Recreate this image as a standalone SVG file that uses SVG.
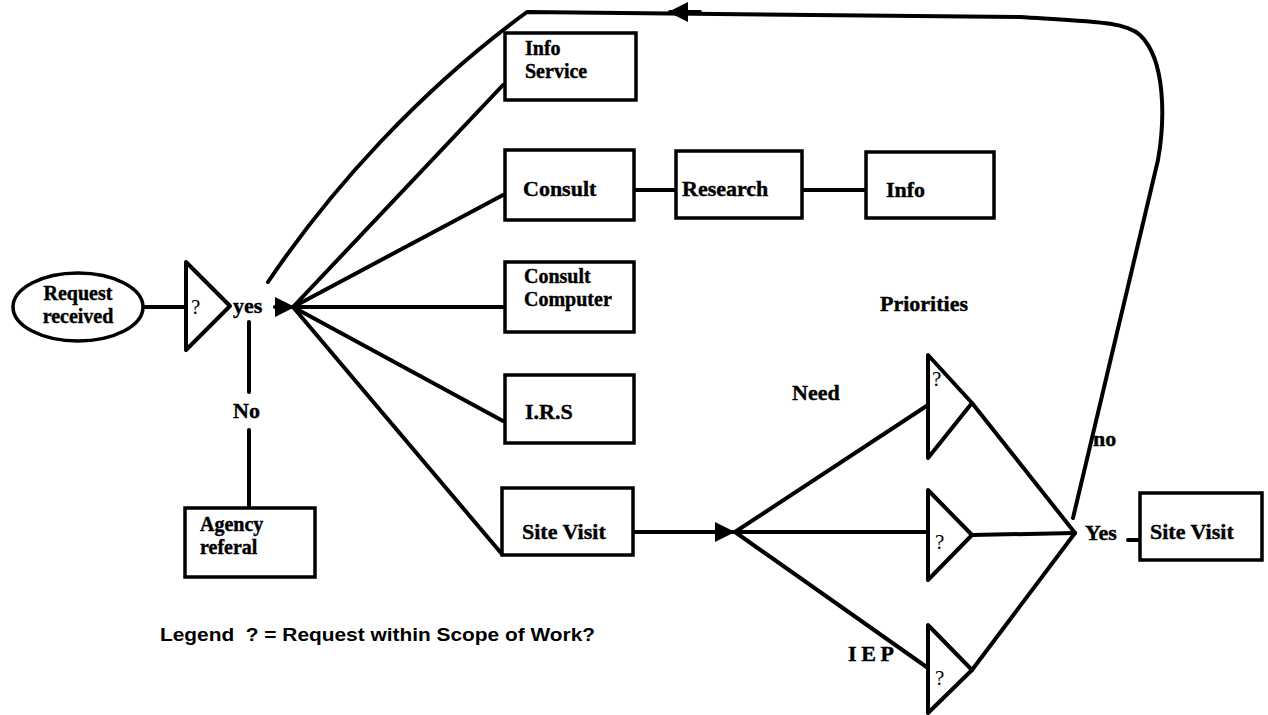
<svg xmlns="http://www.w3.org/2000/svg" width="1268" height="715" viewBox="0 0 1268 715">
<style>
.box{fill:#fff;stroke:#000;stroke-width:3.5}
.ln{fill:none;stroke:#000;stroke-width:4;stroke-linecap:round;stroke-linejoin:round}
.t{font-family:"Liberation Serif",serif;font-weight:bold;font-size:22px;fill:#000;stroke:#000;stroke-width:0.4}
.t2{font-family:"Liberation Serif",serif;font-weight:bold;font-size:20px;fill:#000;stroke:#000;stroke-width:0.4}
.q{font-family:"Liberation Serif",serif;font-size:21px;fill:#000}
.lg{font-family:"Liberation Sans",sans-serif;font-weight:bold;font-size:19px;fill:#000;white-space:pre}
</style>
<defs>
<marker id="ah" viewBox="0 0 10 10" refX="9" refY="5" markerWidth="5" markerHeight="5" orient="auto" markerUnits="strokeWidth">
<path d="M0,0 L10,5 L0,10 z" fill="#000"/>
</marker>
</defs>
<g id="connectors">
<path class="ln" d="M145,307 L186,307"/>
<path class="ln" d="M275,307 L293,307" marker-end="url(#ah)"/>
<path class="ln" d="M293,307 L503,85"/>
<path class="ln" d="M293,307 L503,195"/>
<path class="ln" d="M293,307 L503,307"/>
<path class="ln" d="M293,307 L503,421"/>
<path class="ln" d="M293,307 L501,553"/>
<path class="ln" d="M249,322 L249,392"/>
<path class="ln" d="M249,430 L249,507"/>
<path class="ln" d="M634,190 L676,190"/>
<path class="ln" d="M802,190 L866,190"/>
<path class="ln" d="M633,532 L733,532" marker-end="url(#ah)"/>
<path class="ln" d="M735,532 L928,405"/>
<path class="ln" d="M735,532 L928,532"/>
<path class="ln" d="M735,532 L928,668"/>
<path class="ln" d="M972,403 L1075,533"/>
<path class="ln" d="M972,535 L1075,533"/>
<path class="ln" d="M972,670 L1075,533"/>
<path class="ln" d="M1128,540 L1139,540"/>
<path class="ln" d="M1073,518 L1158,160 C1165,120 1166,60 1140,35 C1125,22 1100,22 1020,17 L527,12 C420,90 330,190 268,282"/>
<path class="ln" d="M700,12 L670,12" marker-end="url(#ah)"/>
</g>
<g id="request">
<ellipse cx="78" cy="307" rx="65" ry="34" class="box"/>
<text class="t2" x="78" y="300" text-anchor="middle">Request</text>
<text class="t2" x="78" y="323" text-anchor="middle">received</text>
</g>
<g id="q1">
<path class="ln" d="M186,262 L230,306 L186,350 Z"/>
<text class="q" x="191" y="314">?</text>
</g>
<text class="t" x="233" y="313">yes</text>
<text class="t" x="233" y="418">No</text>
<g id="info-service">
<rect class="box" x="505" y="33" width="131" height="67"/>
<text class="t2" x="525" y="55">Info</text>
<text class="t2" x="525" y="78">Service</text>
</g>
<g id="consult">
<rect class="box" x="505" y="150" width="129" height="70"/>
<text class="t" x="523" y="196">Consult</text>
</g>
<g id="research">
<rect class="box" x="676" y="151" width="126" height="67"/>
<text class="t" x="682" y="196">Research</text>
</g>
<g id="info">
<rect class="box" x="866" y="152" width="128" height="66"/>
<text class="t" x="886" y="197">Info</text>
</g>
<g id="consult-computer">
<rect class="box" x="505" y="262" width="129" height="70"/>
<text class="t2" x="524" y="283">Consult</text>
<text class="t2" x="524" y="306">Computer</text>
</g>
<g id="irs">
<rect class="box" x="505" y="375" width="129" height="68"/>
<text class="t" x="525" y="419">I.R.S</text>
</g>
<g id="site-visit-1">
<rect class="box" x="502" y="488" width="131" height="67"/>
<text class="t" x="522" y="539">Site Visit</text>
</g>
<g id="agency">
<rect class="box" x="185" y="508" width="130" height="69"/>
<text class="t2" x="200" y="531">Agency</text>
<text class="t2" x="200" y="554">referal</text>
</g>
<g id="q-need">
<path class="ln" d="M928,355 L972,403 L928,458 Z"/>
<text class="q" x="932" y="386">?</text>
</g>
<g id="q-mid">
<path class="ln" d="M928,490 L972,535 L928,580 Z"/>
<text class="q" x="935" y="549">?</text>
</g>
<g id="q-iep">
<path class="ln" d="M928,625 L972,670 L928,713 Z"/>
<text class="q" x="935" y="685">?</text>
</g>
<g id="site-visit-2">
<rect class="box" x="1140" y="493" width="122" height="67"/>
<text class="t" x="1150" y="539">Site Visit</text>
</g>
<text class="t" x="880" y="311">Priorities</text>
<text class="t" x="792" y="400">Need</text>
<text class="t" x="1093" y="446">no</text>
<text class="t" x="1085" y="540">Yes</text>
<text class="t" x="848" y="661" textLength="46">I E P</text>
<text class="lg" x="160" y="641" textLength="435" lengthAdjust="spacingAndGlyphs">Legend  ? = Request within Scope of Work?</text>
</svg>
